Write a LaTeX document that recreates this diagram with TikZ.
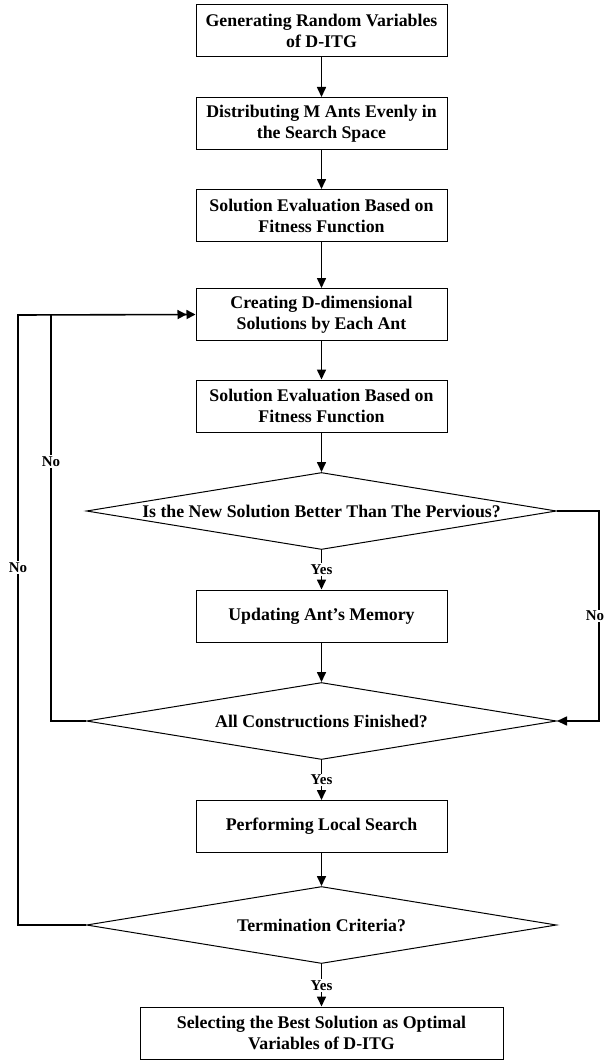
\documentclass[tikz,border=0pt]{standalone}
\usepackage{fontspec}
\setmainfont{Liberation Serif}
\usetikzlibrary{positioning,shapes.geometric,arrows.meta}

\begin{document}
\begin{tikzpicture}[x=1pt,y=1pt]
    \tikzstyle{block}=[draw,rectangle,line width=1,minimum width=251,minimum height=52,inner sep=0,align=center,font=\bfseries\fontsize{17.8}{21}\selectfont]
    \tikzstyle{decide}=[draw,diamond,aspect=6.3,line width=1,minimum width=470,minimum height=77,inner sep=0,align=center,font=\bfseries\fontsize{17.8}{21}\selectfont]
    \tikzstyle{lbl}=[fill=white,inner sep=1.5,font=\bfseries\fontsize{15}{15}\selectfont]
    \tikzstyle{line}=[line width=1.6,->,>={Triangle[length=10pt,width=9pt]}]
    \useasboundingbox (0,0) rectangle (605,-1062);
    {
        \node[block] (gen) at (321.5,-31) {Generating Random Variables\\of D-ITG};
        \node[block,node distance=92.5] (spread) [below of=gen] {Distributing M Ants Evenly in\\the Search Space};
        \node[block,node distance=92] (evala) [below of=spread] {Solution Evaluation Based on\\Fitness Function};
        \node[block,node distance=99] (create) [below of=evala] {Creating D-dimensional\\Solutions by Each Ant};
        \node[block,node distance=91.5] (evalb) [below of=create] {Solution Evaluation Based on\\Fitness Function};
        \node[decide,node distance=105] (better) [below of=evalb] {Is the New Solution Better Than The Pervious?};
        \node[block,node distance=105] (memory) [below of=better] {Updating Ant's Memory};
        \node[decide,node distance=105] (finished) [below of=memory] {All Constructions Finished?};
        \node[block,node distance=105.5] (local) [below of=finished] {Performing Local Search};
        \node[decide,node distance=98.5] (termin) [below of=local] {Termination Criteria?};
        \node[block,minimum width=363,node distance=108] (best) [below of=termin] {Selecting the Best Solution as Optimal\\Variables of D-ITG};

        \coordinate (farleft) at (18,-315);
        \coordinate (nearleft) at (51,-315);
        \coordinate (farright) at (599,-511);

        \path[line]
            (gen) edge (spread)
            (spread) edge (evala)
            (evala) edge (create)
            (create) edge (evalb)
            (evalb) edge (better)
            (better) edge node[lbl] {Yes} (memory)
            (memory) edge (finished)
            (finished) edge node[lbl] {Yes} (local)
            (local) edge (termin)
            (termin) edge node[lbl] {Yes} (best);

        \draw[line] (better.east) -- (farright) -- node[lbl,xshift=-4] {No} (farright |- finished.east) -- (finished.east);
        \draw[line width=1.6] (finished.west) -- (finished.west -| nearleft) -- node[lbl,pos=0.638] {No} (nearleft);
        \draw[line width=1.6,-{Triangle[length=9pt,width=9pt]Triangle[length=9pt,width=9pt]}]
            (termin.west) -- (termin.west -| farleft) -- node[lbl,pos=0.586] {No} (farleft) -- (create.west);
    }
\end{tikzpicture}
\end{document}
